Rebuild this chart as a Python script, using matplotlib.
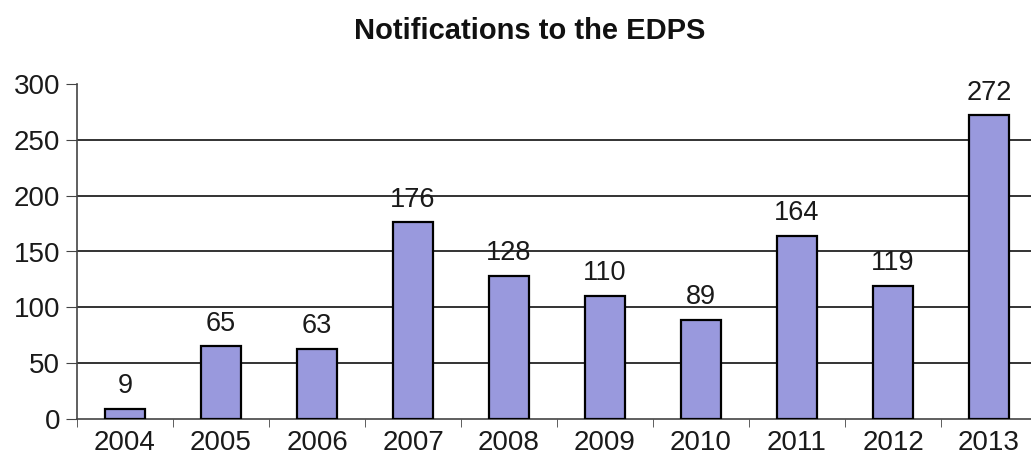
import matplotlib
matplotlib.use('Agg')
import matplotlib.pyplot as plt
import numpy as np

years = ['2004', '2005', '2006', '2007', '2008', '2009', '2010', '2011', '2012', '2013']
notifications = [9, 65, 63, 176, 128, 110, 89, 164, 119, 272]
y_ticks = [0, 50, 100, 150, 200, 250, 300]

plt.rcParams['font.family'] = ['Liberation Sans', 'DejaVu Sans']

W, H = 1031, 465
fig = plt.figure(figsize=(W / 100, H / 100), dpi=100)
# axes runs past the right edge of the figure, like the cropped original
ax = fig.add_axes([77 / W, (H - 419) / H, 960 / W, 335 / H])

x = np.arange(len(years))
bars = ax.bar(x, notifications, width=0.42, color='#9999DD',
              edgecolor='black', linewidth=1.6, zorder=3)

for xi, v in zip(x, notifications):
    ax.annotate(str(v), (xi, v), xytext=(0, 7), textcoords='offset points',
                ha='center', va='bottom', fontsize=19.5, color='#1a1a1a')

ax.set_xlim(-0.5, len(years) - 0.5)
ax.set_ylim(0, 300)
ax.set_yticks(y_ticks)
ax.set_yticklabels([str(t) for t in y_ticks], fontsize=20, color='#1a1a1a')
ax.set_xticks(x)
ax.set_xticklabels(years, fontsize=20, color='#1a1a1a')
ax.set_xticks(np.arange(-0.5, len(years), 1), minor=True)
ax.tick_params(axis='x', which='major', length=0, pad=8)
ax.tick_params(axis='x', which='minor', length=6, color='#444444', direction='out')
ax.tick_params(axis='y', length=8, color='#444444', pad=4)

for t in y_ticks[1:-1]:
    ax.axhline(t, color='#111111', linewidth=1.2, zorder=1)

for s in ['top', 'right']:
    ax.spines[s].set_visible(False)
ax.spines['left'].set_color('#444444')
ax.spines['bottom'].set_color('#444444')
ax.spines['left'].set_linewidth(1.2)
ax.spines['bottom'].set_linewidth(1.2)

fig.text(530 / W, 1 - 31 / H, 'Notifications to the EDPS', ha='center', va='center',
         fontsize=21, fontweight='bold', color='#111111')

fig.savefig('out.png', dpi=100)
